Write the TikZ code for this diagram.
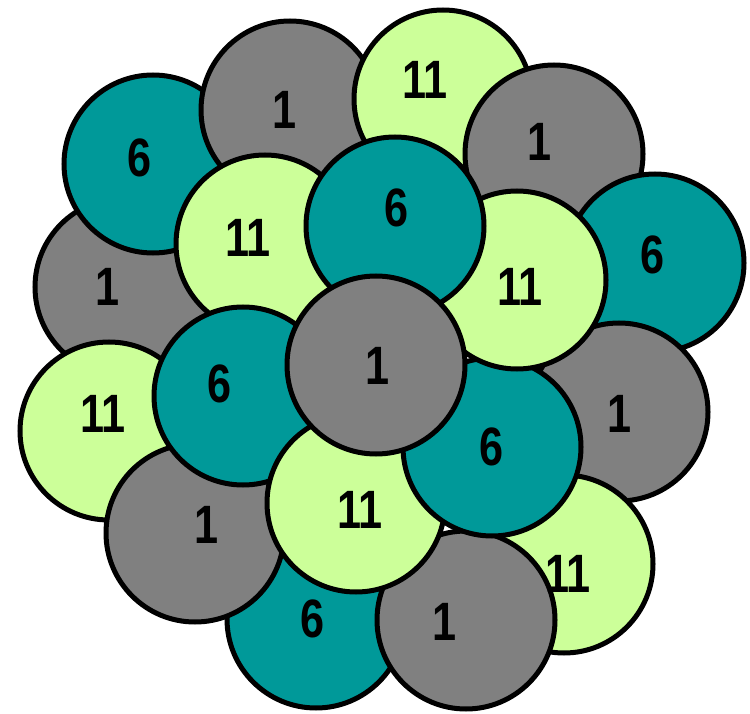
\documentclass[tikz,border=0pt]{standalone}
\usepackage{fontspec}
\setmainfont{Liberation Sans}
\definecolor{cteal}{HTML}{009999}
\definecolor{cgray}{HTML}{808080}
\definecolor{cgreen}{HTML}{CCFF99}
\tikzset{
  disc/.style={circle, draw=black, line width=5pt, fill=#1, minimum size=178pt, inner sep=0pt},
  num/.style={inner sep=0pt, font=\fontsize{54}{54}\selectfont\bfseries}
}
\newcommand{\nm}[1]{\scalebox{0.8}[1]{#1}}
\begin{document}
\begin{tikzpicture}[x=1pt,y=-1pt]
\useasboundingbox (0,0) rectangle (750,714);
% outer ring
\node[disc=cgray]  (grayLeft)   at (124,287) {};
\node[disc=cteal]  (tealTL)     at (153,164) {};
\node[disc=cgray]  (grayTop)    at (290,110) {};
\node[disc=cgreen] (greenTop)   at (443,99) {};
\node[disc=cgray]  (grayTR)     at (554,154) {};
\node[disc=cteal]  (tealRight)  at (655,263) {};
\node[disc=cgray]  (grayRight)  at (619,412) {};
\node[disc=cgreen] (greenLR)    at (564,564) {};
\node[disc=cteal]  (tealBottom) at (316,619) {};
\node[disc=cgray]  (grayBottom) at (466,620) {};
\node[disc=cgreen] (greenLeft)  at (109,431) {};
\node[disc=cgray]  (grayLL)     at (195,533) {};
% inner ring
\node[disc=cgreen] (greenL) at (265,244) {};
\node[disc=cteal]  (tealL)  at (243,396) {};
\node[disc=cgreen] (greenB) at (356,503) {};
\node[disc=cteal]  (tealR)  at (492,447) {};
\node[disc=cgreen] (greenR) at (517,280) {};
\node[disc=cteal]  (tealT)  at (395,226) {};
% centre
\node[disc=cgray]  (grayC)  at (376,365) {};
% labels
\node[num] (lgrayLeft)   at (108,287) {\nm{1}};
\node[num] (ltealTL)     at (140,158) {\nm{6}};
\node[num] (lgrayTop)    at (285,110) {\nm{1}};
\node[num] (lgreenTop)   at (425,80)  {\nm{11}};
\node[num] (lgrayTR)     at (540,142) {\nm{1}};
\node[num] (ltealRight)  at (653,255) {\nm{6}};
\node[num] (lgrayRight)  at (620,414) {\nm{1}};
\node[num] (lgreenLR)    at (568,574) {\nm{11}};
\node[num] (ltealBottom) at (313,619) {\nm{6}};
\node[num] (lgrayBottom) at (445,622) {\nm{1}};
\node[num] (lgreenLeft)  at (103,414) {\nm{11}};
\node[num] (lgrayLL)     at (207,525) {\nm{1}};
\node[num] (lgreenL)     at (248,238) {\nm{11}};
\node[num] (ltealL)      at (220,384) {\nm{6}};
\node[num] (lgreenB)     at (360,510) {\nm{11}};
\node[num] (ltealR)      at (492,447) {\nm{6}};
\node[num] (lgreenR)     at (520,287) {\nm{11}};
\node[num] (ltealT)      at (397,208) {\nm{6}};
\node[num] (lgrayC)      at (378,366) {\nm{1}};
\end{tikzpicture}
\end{document}
